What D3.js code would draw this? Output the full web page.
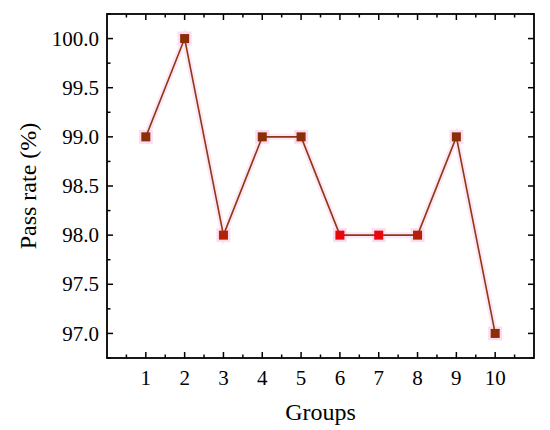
<!DOCTYPE html>
<html>
<head>
<meta charset="utf-8">
<script src="https://cdn.jsdelivr.net/npm/d3@7"></script>
<style>
  html, body { margin: 0; padding: 0; background: #fff; }
  svg { display: block; }
  svg text { font-family: "Liberation Serif", "DejaVu Serif", serif; fill: #000; }
  .tick-label { font-size: 21px; }
  .axis-title { font-size: 24px; }
</style>
</head>
<body>
<svg id="chart" width="550" height="430"></svg>
<script>
  const groups = [1, 2, 3, 4, 5, 6, 7, 8, 9, 10];
  const passRate = [99, 100, 98, 99, 99, 98, 98, 98, 99, 97];
  const yTicks = [97.0, 97.5, 98.0, 98.5, 99.0, 99.5, 100.0];
  const xTicks = [1, 2, 3, 4, 5, 6, 7, 8, 9, 10];

  // marker fill per point (style, not data)
  const markerColors = ["#8b2d05", "#8b2d05", "#b32208", "#8b2d05", "#8b2d05",
    "#e8070d", "#e8070d", "#b32208", "#8b2d05", "#8b2d05"];

  const svg = d3.select("#chart");
  const margin = { top: 14, right: 16, bottom: 72, left: 107 };
  const width = 550 - margin.left - margin.right;
  const height = 430 - margin.top - margin.bottom;

  const x = d3.scaleLinear().domain([0, 11]).range([0, width]);
  const y = d3.scaleLinear().domain([96.75, 100.25]).range([height, 0]);

  const g = svg.append("g").attr("transform", `translate(${margin.left},${margin.top})`);

  const majorLen = 6, minorLen = 3.5;
  const xMinor = d3.range(0.5, 11, 1);
  const yMinor = d3.range(96.75, 100.26, 0.5);

  const ticks = g.append("g").attr("stroke", "#000").attr("stroke-width", 1.5);
  // bottom + top ticks, inward
  xTicks.forEach(v => {
    ticks.append("line").attr("x1", x(v)).attr("x2", x(v)).attr("y1", height).attr("y2", height - majorLen);
    ticks.append("line").attr("x1", x(v)).attr("x2", x(v)).attr("y1", 0).attr("y2", majorLen);
  });
  xMinor.forEach(v => {
    ticks.append("line").attr("x1", x(v)).attr("x2", x(v)).attr("y1", height).attr("y2", height - minorLen);
    ticks.append("line").attr("x1", x(v)).attr("x2", x(v)).attr("y1", 0).attr("y2", minorLen);
  });
  yTicks.forEach(v => {
    ticks.append("line").attr("x1", 0).attr("x2", majorLen).attr("y1", y(v)).attr("y2", y(v));
    ticks.append("line").attr("x1", width).attr("x2", width - majorLen).attr("y1", y(v)).attr("y2", y(v));
  });
  yMinor.forEach(v => {
    ticks.append("line").attr("x1", 0).attr("x2", minorLen).attr("y1", y(v)).attr("y2", y(v));
    ticks.append("line").attr("x1", width).attr("x2", width - minorLen).attr("y1", y(v)).attr("y2", y(v));
  });

  g.append("rect")
    .attr("width", width)
    .attr("height", height)
    .attr("fill", "none")
    .attr("stroke", "#000")
    .attr("stroke-width", 1.8);

  // tick labels
  g.append("g").selectAll("text")
    .data(yTicks)
    .join("text")
    .attr("class", "tick-label")
    .attr("x", -8)
    .attr("y", d => y(d))
    .attr("dy", "0.34em")
    .attr("text-anchor", "end")
    .text(d => d3.format(".1f")(d));

  g.append("g").selectAll("text")
    .data(xTicks)
    .join("text")
    .attr("class", "tick-label")
    .attr("x", d => x(d))
    .attr("y", height + 27)
    .attr("text-anchor", "middle")
    .text(d => d);

  g.append("text")
    .attr("class", "axis-title")
    .attr("x", width / 2)
    .attr("y", height + 62)
    .attr("text-anchor", "middle")
    .text("Groups");

  g.append("text")
    .attr("class", "axis-title")
    .attr("transform", `translate(-71,${height / 2}) rotate(-90)`)
    .attr("text-anchor", "middle")
    .text("Pass rate (%)");

  const rows = groups.map((grp, i) => ({ grp, value: passRate[i], color: markerColors[i] }));

  const line = d3.line().x(d => x(d.grp)).y(d => y(d.value));

  // faint pink halo under the series
  g.append("path")
    .datum(rows)
    .attr("d", line)
    .attr("fill", "none")
    .attr("stroke", "#fde6f5")
    .attr("stroke-width", 6);

  g.selectAll(".halo")
    .data(rows)
    .join("rect")
    .attr("class", "halo")
    .attr("x", d => x(d.grp) - 7)
    .attr("y", d => y(d.value) - 7)
    .attr("width", 14)
    .attr("height", 14)
    .attr("fill", "#fcdcf0");

  g.append("path")
    .datum(rows)
    .attr("d", line)
    .attr("fill", "none")
    .attr("stroke", "#8f3814")
    .attr("stroke-width", 1.6);

  g.selectAll(".marker")
    .data(rows)
    .join("rect")
    .attr("class", "marker")
    .attr("x", d => x(d.grp) - 4.5)
    .attr("y", d => y(d.value) - 4.5)
    .attr("width", 9)
    .attr("height", 9)
    .attr("fill", d => d.color);
</script>
</body>
</html>
